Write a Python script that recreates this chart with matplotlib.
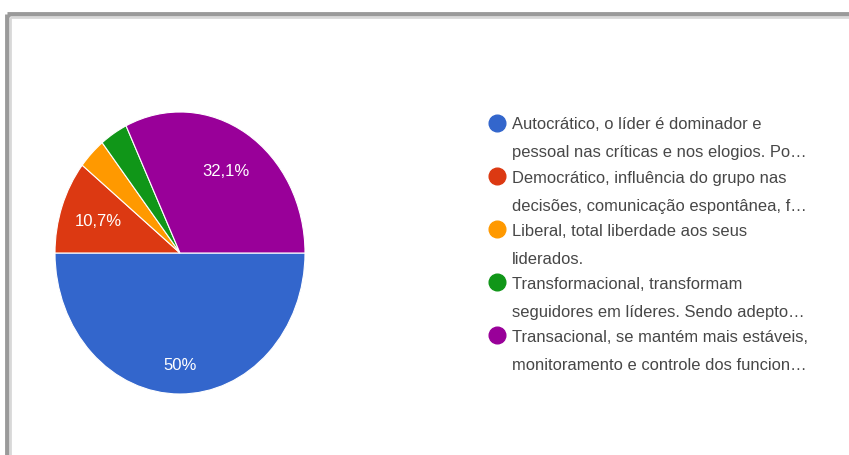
import matplotlib.pyplot as plt

plt.rcParams['font.family'] = ['Liberation Sans', 'DejaVu Sans']

labels = [
    ('Autocrático, o líder é dominador e', 'pessoal nas críticas e nos elogios. Po…'),
    ('Democrático, influência do grupo nas', 'decisões, comunicação espontânea, f…'),
    ('Liberal, total liberdade aos seus', 'liderados.'),
    ('Transformacional, transformam', 'seguidores em líderes. Sendo adepto…'),
    ('Transacional, se mantém mais estáveis,', 'monitoramento e controle dos funcion…'),
]
shares = [50.0, 10.7, 3.6, 3.6, 32.1]
colors = ['#3366cc', '#dc3912', '#ff9900', '#109618', '#990099']

W, H = 849, 456
fig = plt.figure(figsize=(W / 100, H / 100), dpi=100)
fig.patch.set_facecolor('white')

# pie (slightly taller than wide, as in the screenshot)
px0, px1, py0, py1 = 55, 305, 113, 395
ax = fig.add_axes([px0 / W, 1 - py1 / H, (px1 - px0) / W, (py1 - py0) / H])


def fmt(p):
    if p < 5:
        return ''
    s = f'{p:.1f}'.rstrip('0').rstrip('.')
    return s.replace('.', ',') + '%'


wedges, _, autotexts = ax.pie(
    shares, colors=colors, startangle=0, counterclock=False,
    autopct=fmt, pctdistance=0.69,
    wedgeprops={'edgecolor': 'white', 'linewidth': 0.8},
    textprops={'color': 'white', 'fontsize': 12},
)
# the big slice's label sits further out
x, y = autotexts[0].get_position()
autotexts[0].set_position((x * 0.79 / 0.69, y * 0.79 / 0.69))
ax.set_xlim(-1, 1)
ax.set_ylim(-1, 1)
ax.set_aspect('auto')

# legend, drawn in pixel coordinates
lax = fig.add_axes([0, 0, 1, 1], zorder=-1)
lax.set_xlim(0, W)
lax.set_ylim(H, 0)
lax.axis('off')
for i, ((l1, l2), c) in enumerate(zip(labels, colors)):
    y = 123.5 + i * 53.2
    lax.plot(497, y, 'o', ms=12, color=c)
    lax.text(512, y, l1, va='center_baseline', ha='left', fontsize=11.9, color='#474747')
    lax.text(512, y + 28, l2, va='center_baseline', ha='left', fontsize=11.9, color='#474747')

# screenshot frame
lax.plot([7, 7], [15, H], color='#9a9a9a', lw=3.5, solid_capstyle='butt')
lax.plot([7, W], [15, 15], color='#9a9a9a', lw=3.5, solid_capstyle='butt')
lax.plot([10, 10], [18, H], color='#d8d8d8', lw=2, solid_capstyle='butt')
lax.plot([10, W], [18, 18], color='#d8d8d8', lw=2, solid_capstyle='butt')

fig.savefig('out.png', dpi=100)
